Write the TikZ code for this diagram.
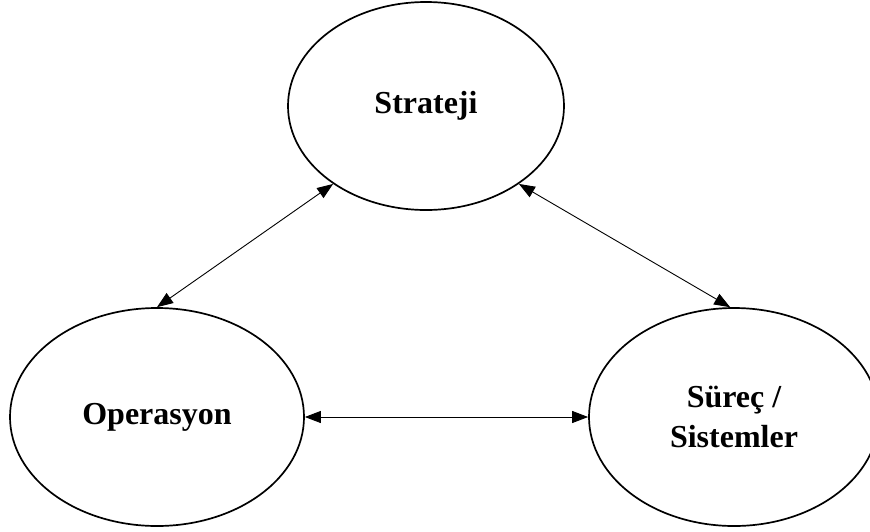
\documentclass[tikz,border=0pt]{standalone}
\usepackage{fontspec}
\setmainfont{Liberation Serif}
\usetikzlibrary{shapes.geometric,arrows.meta}
\begin{document}
\begin{tikzpicture}[x=1pt,y=-1pt,
  topic/.style={ellipse,draw=black,line width=1.7pt,inner sep=0pt,
    align=center,font=\bfseries\fontsize{32}{40}\selectfont},
  link/.style={line width=0.9pt,{Triangle[length=16pt,width=12pt]}-{Triangle[length=16pt,width=12pt]}}]
  \clip (0,0) rectangle (870,531);
  \useasboundingbox (0,0) rectangle (870,531);
  % the three areas
  \node[topic,minimum width=276pt,minimum height=208pt] (S) at (426,106) {Strateji};
  \node[topic,minimum width=294pt,minimum height=218pt] (O) at (157,417) {Operasyon};
  \node[topic,minimum width=290pt,minimum height=218pt] (P) at (734,417) {Süreç /\\Sistemler};
  % two-way relations
  \draw[link] (S.220) -- (O.north);
  \draw[link] (S.320) -- (P.92);
  \draw[link] (O.east) -- (P.west);
\end{tikzpicture}
\end{document}
